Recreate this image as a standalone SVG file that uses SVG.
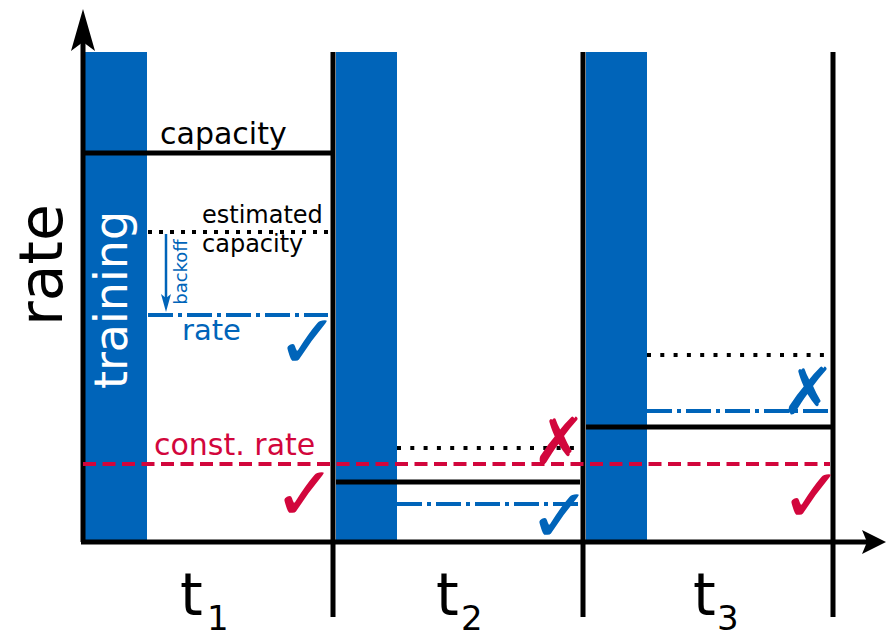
<svg xmlns="http://www.w3.org/2000/svg" width="886" height="637" viewBox="0 0 886 637">
<style>
.bar{fill:#0064b9}
.solid{stroke:#000;stroke-width:5;fill:none}
.dot{stroke:#000;stroke-width:4;stroke-dasharray:4 7;fill:none}
.dot2{stroke:#000;stroke-width:4;stroke-dasharray:4 9.3;fill:none}
.dd{stroke:#0064b9;stroke-width:4;stroke-dasharray:25 5 4 5;fill:none}
.red{stroke:#d2063c;stroke-width:4;stroke-dasharray:13 6.5;fill:none}
.t{font-family:"DejaVu Sans",sans-serif}
.chk{font-family:"DejaVu Sans",sans-serif;font-size:76px;font-weight:bold}
.crs{font-family:"DejaVu Sans",sans-serif;font-size:65px;font-weight:bold}
</style>
<rect width="886" height="637" fill="#fff"/>
<g id="training-bars">
<rect class="bar" x="85" y="52" width="62" height="490"/>
<rect class="bar" x="336" y="52" width="61" height="490"/>
<rect class="bar" x="586" y="52" width="61" height="490"/>
</g>
<g id="axes">
<line class="solid" x1="83" y1="542" x2="83" y2="40"/>
<polygon points="83,9 95,51 83,42 71,51" fill="#000"/>
<line class="solid" x1="81" y1="542" x2="872" y2="542"/>
<polygon points="886,542 862,530 867,542 862,554" fill="#000"/>
<line class="solid" x1="333" y1="52" x2="333" y2="617"/>
<line class="solid" x1="583" y1="52" x2="583" y2="617"/>
<line class="solid" x1="833" y1="52" x2="833" y2="617"/>
<text class="t" x="62" y="265" font-size="60" text-anchor="middle" transform="rotate(-90 62 265)">rate</text>
<text class="t" x="180" y="615" font-size="58">t</text><text class="t" x="207" y="630" font-size="34">1</text>
<text class="t" x="436" y="615" font-size="58">t</text><text class="t" x="461" y="630" font-size="34">2</text>
<text class="t" x="693" y="615" font-size="58">t</text><text class="t" x="717" y="630" font-size="34">3</text>
</g>
<g id="training-label">
<text class="t" x="127" y="300" font-size="46" fill="#fff" text-anchor="middle" transform="rotate(-90 127 300)">training</text>
</g>
<g id="connectors">
<line class="solid" x1="83" y1="153" x2="331" y2="153"/>
<line class="dot" x1="148" y1="232" x2="330" y2="232"/>
<line class="dd" x1="148" y1="315" x2="328" y2="315"/>
<line x1="166" y1="234" x2="166" y2="298" stroke="#0064b9" stroke-width="2.5"/>
<polygon points="166,312 161,294 166,298 171,294" fill="#0064b9"/>
<line class="red" x1="83" y1="464" x2="830" y2="464"/>
<line class="solid" x1="336" y1="482" x2="580" y2="482"/>
<line class="dot2" x1="397" y1="448" x2="578" y2="448"/>
<line class="dd" x1="397" y1="504" x2="578" y2="504"/>
<line class="solid" x1="586" y1="427" x2="831" y2="427"/>
<line class="dot2" x1="647" y1="355" x2="829" y2="355"/>
<line class="dd" x1="647" y1="411" x2="829" y2="411"/>
</g>
<g id="labels">
<text class="t" x="160" y="144" font-size="30">capacity</text>
<text class="t" x="202" y="223" font-size="24">estimated</text>
<text class="t" x="202" y="252" font-size="24">capacity</text>
<text class="t" x="187" y="272" font-size="18" fill="#0064b9" text-anchor="middle" transform="rotate(-90 187 272)">backoff</text>
<text class="t" x="182" y="340" font-size="29" fill="#0064b9">rate</text>
<text class="t" x="154" y="455" font-size="30" fill="#d2063c">const. rate</text>
</g>
<g id="marks">
<text class="chk" x="276" y="368" fill="#0064b9">✓</text>
<text class="chk" x="273" y="520" fill="#d2063c">✓</text>
<text class="chk" x="528" y="542" fill="#0064b9">✓</text>
<text class="chk" x="780" y="522" fill="#d2063c">✓</text>
<text class="crs" x="532" y="464" fill="#d2063c">✗</text>
<text class="crs" x="781" y="414" fill="#0064b9">✗</text>
</g>
</svg>
